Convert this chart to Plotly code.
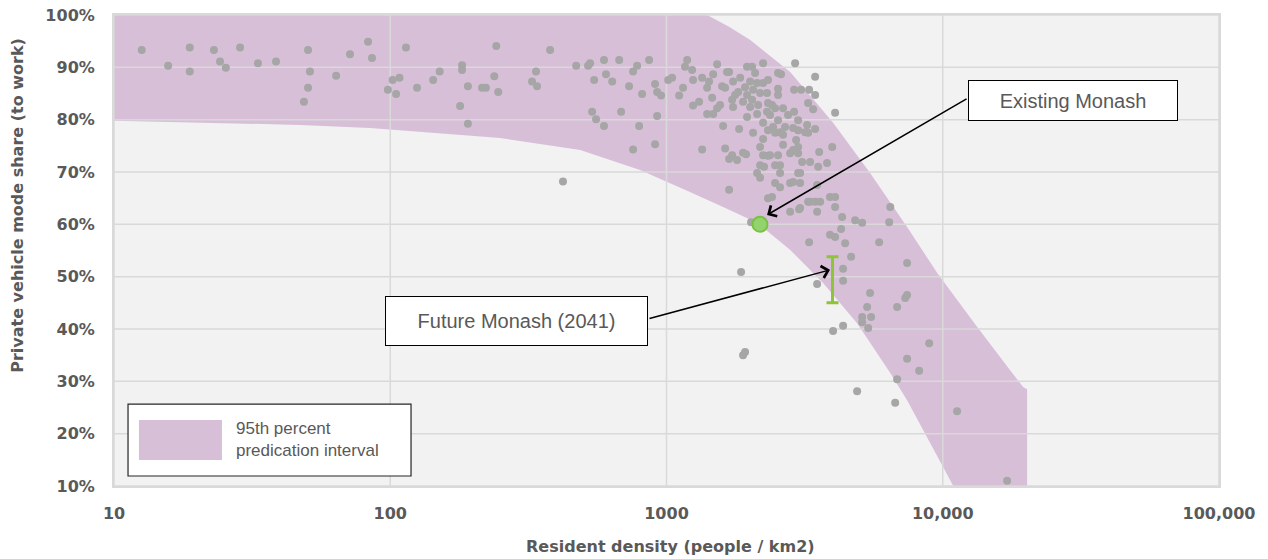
import math
import plotly.graph_objects as go

# ---------------- data ----------------
density = [
    12.6, 15.7, 18.8, 18.8, 23.0, 24.2, 25.4, 28.6, 33.2, 38.6, 50.4, 51.2, 50.4, 48.7, 63.7,
    71.5, 83.1, 85.9, 114, 102, 108, 98, 105, 125, 143, 151, 182, 182, 191, 179, 191, 215,
    222, 238, 246, 242, 326, 337, 340, 379, 422, 471, 520, 529, 547, 538, 556, 594, 594, 604,
    636, 674, 685, 732, 757, 757, 783, 796, 816, 865, 909, 909, 925, 925, 956,
    1014, 1048, 1111, 1148, 1167, 1188, 1238, 1248, 1248, 1312, 1346, 1346, 1403, 1403, 1426,
    1463, 1476, 1476, 1525, 1525, 1563, 1589, 1603, 1630, 1630, 1657, 1685, 1685, 1685, 1728,
    1728, 1742, 1742, 1771, 1801, 1818, 1832, 1848, 1862, 1893, 1893, 1893, 1925, 1925, 1941,
    1957, 1957, 1957, 2008, 2008, 2024, 2041, 2041, 2058, 2058, 2093, 2128, 2128, 2128, 2146,
    2182, 2182, 2182, 2182, 2237, 2237, 2237, 2237, 2237, 2255, 2312, 2312, 2331, 2331, 2331,
    2331, 2331, 2370, 2370, 2410, 2410, 2431, 2472, 2472, 2472, 2472, 2534, 2534, 2534, 2534,
    2534, 2577, 2577, 2577, 2577, 2598, 2642, 2642, 2642, 2686, 2754, 2802, 2802, 2802, 2873,
    2873, 2873, 2897, 2897, 2921, 2946, 2995, 2995, 2995, 2995, 2995, 3020, 3046, 3046, 3046,
    3071, 3097, 3175, 3229, 3256, 3256, 3256, 3283, 3283, 3311, 3311, 3395, 3452, 3452, 3452,
    3452, 3510, 3510, 3510, 3540, 3570, 3600, 3812, 3907, 3907, 3979, 4077, 4077, 4077, 4077,
    4009, 4286, 4322, 4358, 4358, 4358, 4432, 4659, 4818, 4898, 5108, 5108, 5108, 5325, 5370,
    5457, 5504, 5885, 6400, 6457, 6726, 6838, 6838, 7313, 7430, 7430, 7430, 8214, 8930, 11270,
    17100,
]
share = [
    93.3, 90.3, 93.8, 89.2, 93.3, 91.1, 89.9, 93.8, 90.8, 91.1, 93.3, 89.2, 86.1, 83.4, 88.4,
    92.5, 94.9, 91.8, 93.8, 87.6, 88.0, 85.7, 84.9, 86.1, 87.6, 89.2, 90.4, 89.5, 86.4, 82.6, 79.2, 86.1,
    86.1, 88.3, 85.3, 94.1, 87.3, 89.2, 86.4, 93.3, 68.2, 90.3, 90.3, 90.8, 87.6, 81.5, 80.1, 78.8, 91.4, 88.7,
    87.3, 91.4, 81.5, 86.4, 89.2, 74.3, 90.3, 78.8, 84.9, 91.4, 86.8, 75.3, 85.3, 80.7, 84.6,
    87.6, 88.0, 84.6, 86.1, 90.1, 91.4, 89.5, 87.6, 82.7, 83.4, 88.0, 74.3, 86.1, 81.1, 87.3,
    84.2, 88.7, 81.1, 90.6, 82.2, 82.8, 86.4, 78.8, 86.1, 74.5, 89.1, 89.1, 66.6, 72.5, 83.8,
    73.2, 87.3, 82.4, 84.7, 72.3, 85.3, 78.2, 88.0, 50.9, 83.4, 73.7, 35.0, 86.2, 35.6, 73.4,
    90.1, 84.7, 80.5, 87.3, 82.4, 60.4, 90.1, 83.8, 85.7, 77.5, 88.9, 87.0, 81.1, 69.8, 82.8,
    85.1, 74.8, 71.3, 68.9, 90.8, 87.0, 79.4, 76.3, 73.2, 71.0, 85.1, 81.5, 87.6, 83.2, 78.0,
    73.1, 65.0, 80.9, 73.2, 82.8, 65.2, 78.6, 82.2, 77.5, 71.3, 67.9, 88.9, 85.9, 84.7, 79.9,
    73.2, 77.6, 69.8, 67.1, 71.3, 88.7, 82.2, 77.1, 75.2, 78.6, 80.9, 73.6, 67.9, 62.4, 78.4,
    74.2, 68.1, 85.7, 81.5, 90.8, 76.1, 79.9, 78.0, 74.8, 73.6, 69.8, 62.9, 69.8, 67.9, 63.1,
    85.7, 71.9, 77.6, 79.0, 83.2, 77.5, 64.3, 85.7, 56.6, 71.9, 64.3, 82.0, 88.2, 84.7, 78.2,
    64.3, 67.5, 62.4, 48.6, 71.0, 73.8, 64.3, 71.7, 65.2, 58.0, 74.8, 81.3, 65.2, 63.3, 57.6,
    39.6, 59.1, 61.4, 51.5, 49.2, 40.6, 56.4, 53.8, 60.8, 28.1, 60.3, 42.3, 41.3, 44.2, 40.2,
    46.9, 42.3, 56.6, 60.4, 63.3, 25.9, 44.2, 30.4, 45.9, 52.6, 46.5, 34.3, 32.0, 37.3, 24.3,
    11.0,
]

# 95th percentile prediction interval (band edges)
band_upper_x = [10, 1403, 1690, 2010, 2805, 4009, 5457, 7430, 9550, 13330, 19540, 20200, 20200]
band_upper_y = [100, 100, 97.7, 95.2, 89.1, 79.4, 69.8, 59.5, 50.7, 40.4, 28.9, 28.5, 10]
band_lower_x = [10, 47, 84.5, 250, 487, 802, 1216, 1603, 2128, 2805, 3690, 4898, 6457, 7430, 10920]
band_lower_y = [79.8, 79.0, 78.4, 76.5, 74.2, 70.4, 66.2, 63.3, 60.3, 55.1, 48.8, 41.1, 31.6, 26.4, 10]

existing_x, existing_y = [2180], [60.0]
future_x, future_mid, future_half = [3990], [49.4], [4.4]

x_ticks = [10, 100, 1000, 10000, 100000]
x_tick_text = ["10", "100", "1000", "10,000", "100,000"]
y_ticks = [10, 20, 30, 40, 50, 60, 70, 80, 90, 100]
y_tick_text = ["10%", "20%", "30%", "40%", "50%", "60%", "70%", "80%", "90%", "100%"]

GRAY_TXT = "#595959"
BAND = "#D8BFD8"
GRID = "#D9D9D9"
FONT = "DejaVu Sans"

fig = go.Figure()

# band
fig.add_trace(go.Scatter(
    x=band_upper_x + band_lower_x[::-1],
    y=band_upper_y + band_lower_y[::-1],
    fill="toself", fillcolor=BAND, mode="lines", line=dict(width=0),
    hoverinfo="skip", showlegend=False))

# grid lines drawn on top of band
gx, gy = [], []
for v in x_ticks:
    gx += [v, v, None]
    gy += [10, 100, None]
for v in y_ticks:
    gx += [10, 100000, None]
    gy += [v, v, None]
fig.add_trace(go.Scatter(x=gx, y=gy, mode="lines", line=dict(color=GRID, width=1.5),
                         hoverinfo="skip", showlegend=False))

# suburbs scatter
fig.add_trace(go.Scatter(x=density, y=share, mode="markers",
                         marker=dict(size=8, color="#A6A6A6"), showlegend=False))

# existing Monash
fig.add_trace(go.Scatter(x=existing_x, y=existing_y, mode="markers",
                         marker=dict(size=15, color="#92D36E", line=dict(color="#7AC143", width=2)),
                         showlegend=False))

# future Monash range
fig.add_trace(go.Scatter(x=future_x, y=future_mid, mode="markers",
                         marker=dict(size=1, opacity=0),
                         error_y=dict(type="data", array=future_half, color="#8DC43A",
                                      thickness=3, width=6),
                         showlegend=False))

annotations = [
    dict(xref="paper", yref="paper", x=0.868, y=0.8195, xanchor="center", yanchor="middle",
         text="Existing Monash", showarrow=False,
         font=dict(family="Liberation Sans", size=20, color=GRAY_TXT),
         bgcolor="white", bordercolor="#000000", borderwidth=1, borderpad=2, width=204, height=35),
    dict(xref="paper", yref="paper", x=0.364, y=0.350, xanchor="center", yanchor="middle",
         text="Future Monash (2041)", showarrow=False,
         font=dict(family="Liberation Sans", size=20, color=GRAY_TXT),
         bgcolor="white", bordercolor="#000000", borderwidth=1, borderpad=2, width=257, height=44),
    dict(x=math.log10(2312), y=61.8, text="", showarrow=True, ax=201, ay=-117,
         arrowhead=4, arrowsize=1.6, arrowwidth=1.5, arrowcolor="#000000"),
    dict(x=math.log10(3907), y=51.3, text="", showarrow=True, ax=-182, ay=49,
         arrowhead=4, arrowsize=1.6, arrowwidth=1.5, arrowcolor="#000000"),
    dict(xref="paper", yref="paper", x=0.1086, y=0.0977, xanchor="left", yanchor="middle",
         text="95th percent<br>predication interval", showarrow=False, align="left",
         font=dict(family="Liberation Sans", size=17, color=GRAY_TXT)),
    dict(xref="paper", yref="paper", x=0.5036, y=-0.1295, xanchor="center", yanchor="middle",
         text="<b>Resident density (people / km2)</b>",
         showarrow=False, font=dict(family=FONT, size=16, color=GRAY_TXT)),
    dict(xref="paper", yref="paper", x=-0.0869, y=0.597, xanchor="center", yanchor="middle",
         textangle=-90, text="<b>Private vehicle mode share (to work)</b>",
         showarrow=False, font=dict(family=FONT, size=16, color=GRAY_TXT)),
]

shapes = [
    dict(type="rect", xref="paper", yref="paper", x0=0.0127, x1=0.2688, y0=0.0212, y1=0.174,
         fillcolor="white", line=dict(color="#262626", width=1.2)),
    dict(type="rect", xref="paper", yref="paper", x0=0.0226, x1=0.0977, y0=0.0552, y1=0.140,
         fillcolor=BAND, line=dict(width=0)),
]

fig.update_layout(
    width=1268, height=559,
    margin=dict(l=114, r=49, t=15, b=73, autoexpand=False),
    paper_bgcolor="white", plot_bgcolor="#F2F2F2",
    annotations=annotations, shapes=shapes,
    xaxis=dict(type="log", range=[1, 5], tickmode="array", tickvals=x_ticks, ticktext=x_tick_text,
               showgrid=False, zeroline=False, showline=True, linecolor=GRID, linewidth=2,
               mirror=True, ticklabelstandoff=12, automargin=False, ticklabeloverflow="allow",
               tickfont=dict(family=FONT, size=16, color=GRAY_TXT, weight="bold")),
    yaxis=dict(range=[10, 100], tickmode="array", tickvals=y_ticks, ticktext=y_tick_text,
               showgrid=False, zeroline=False, showline=True, linecolor=GRID, linewidth=2,
               mirror=True, ticklabelstandoff=14, automargin=False, ticklabeloverflow="allow",
               tickfont=dict(family=FONT, size=16, color=GRAY_TXT, weight="bold")),
)

# remove the browser's default 8px page margin so the figure fills the window exactly
fig.write_html("out.html", config={"displayModeBar": False},
               post_script="document.body.style.margin='0';")
